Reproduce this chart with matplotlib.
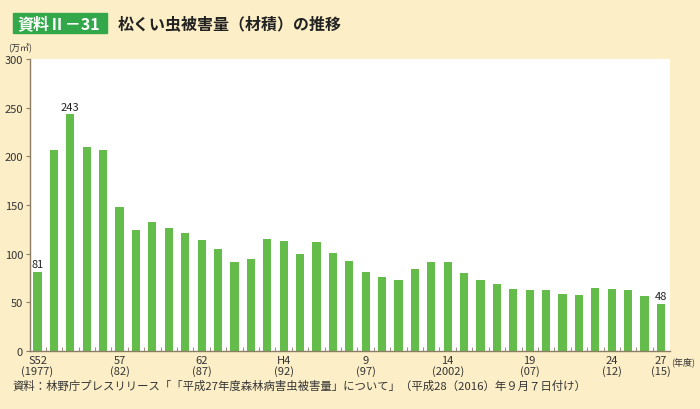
import numpy as np
import matplotlib.pyplot as plt
from matplotlib.patches import Rectangle

plt.rcParams['font.family'] = ['Noto Sans CJK JP', 'DejaVu Sans']

# 松くい虫被害量 (万m3), 1977-2015 fiscal years
years = np.arange(1977, 2016)
damage = [81, 207, 243, 210, 207, 148, 124, 133, 126, 121,
          114, 105, 91, 95, 115, 113, 100, 112, 101, 92,
          81, 76, 73, 84, 91, 91, 80, 73, 69, 64,
          63, 63, 59, 58, 65, 64, 63, 56, 48]
tick_idx = [0, 5, 10, 15, 20, 25, 30, 35, 38]
tick_labels = ["S52\n(1977)", "57\n(82)", "62\n(87)", "H4\n(92)", "9\n(97)",
               "14\n(2002)", "19\n(07)", "24\n(12)", "27\n(15)"]
labeled = [0, 2, 38]

bg = "#FCEFC7"
bar_color = "#64BC4A"
axis_color = "#8C7E66"

fig = plt.figure(figsize=[7, 4.1], dpi=100)
fig.patch.set_facecolor(bg)
ax = fig.add_axes([30/700, 58/410, 640/700, 292/410])
ax.set_facecolor("white")

x = np.arange(len(damage))
ax.bar(x, damage, width=0.5, color=bar_color, zorder=2)
for i in labeled:
    ax.text(x[i], damage[i] + 3, str(damage[i]), ha="center", va="bottom",
            fontsize=8, color="#222222")

ax.set_xlim(-0.46, 38.55)
ax.set_ylim(0, 300)
ax.set_yticks(np.arange(0, 301, 50))
ax.tick_params(axis="y", direction="out", length=3, color=axis_color,
               labelsize=8, labelcolor="#333333", pad=2)
ax.set_xticks(x[tick_idx])
ax.set_xticklabels(tick_labels, fontsize=8, color="#333333", linespacing=1.0)
ax.tick_params(axis="x", which="major", length=0, pad=3)
ax.set_xticks(np.arange(0.5, len(damage) - 0.5, 1), minor=True)
ax.tick_params(axis="x", which="minor", direction="in", length=3, color=axis_color)

for s in ["top", "right"]:
    ax.spines[s].set_visible(False)
for s in ["left", "bottom"]:
    ax.spines[s].set_color(axis_color)
    ax.spines[s].set_linewidth(1.0)

fig.text(671/700, 1 - 362/410, "(年度)", fontsize=6.5, color="#333333", va="center")
fig.text(8/700, 1 - 47/410, "(万㎥)", fontsize=6.5, color="#333333", va="center")

# title
fig.patches.append(Rectangle((13/700, 1 - 34/410), 94/700, 20/410,
                             transform=fig.transFigure, color="#33A84A"))
fig.text(17/700, 1 - 24/410, "資料Ⅱ－31", fontsize=11.5, color="white",
         va="center", fontweight="bold")
fig.text(118/700, 1 - 24/410, "松くい虫被害量（材積）の推移", fontsize=11.5,
         color="#222222", va="center", fontweight="bold")

fig.text(12/700, 1 - 386/410,
         "資料：林野庁プレスリリース「「平成27年度森林病害虫被害量」について」（平成28（2016）年９月７日付け）",
         fontsize=8.2, color="#333333", va="center")

fig.savefig("out.png", dpi=100, facecolor=bg)
